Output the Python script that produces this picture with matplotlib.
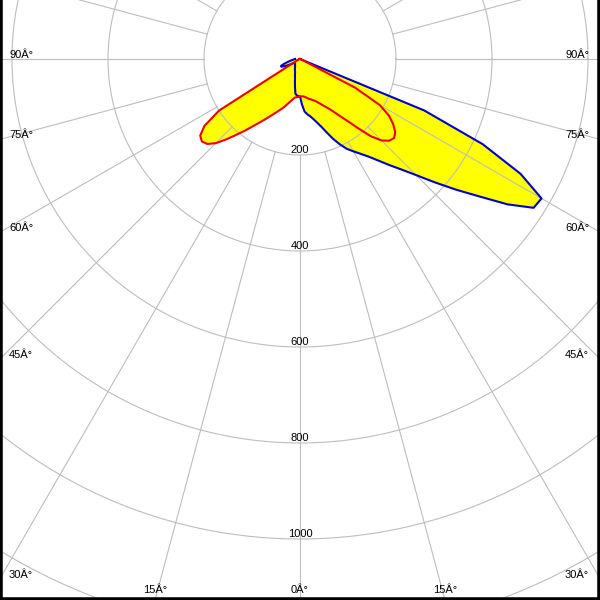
import numpy as np
import matplotlib
matplotlib.use("Agg")
import matplotlib.pyplot as plt

# luminous intensity (cd) every 2.5 deg from nadir, four half planes
angles = np.arange(0, 92.5, 2.5)

red_right = [78, 78, 78, 80, 82, 85, 87, 90, 93, 98, 104, 111, 119, 130, 145, 163,
             188, 218, 240, 252, 256, 250, 237, 220, 192, 130, 8, 5, 4, 3, 3, 2, 2, 2, 1, 1, 1]
red_left = [78, 79, 80, 81, 85, 90, 96, 103, 110, 117, 125, 134, 145, 157, 171, 188,
            206, 227, 248, 262, 267, 262, 243, 200, 15, 8, 5, 4, 3, 3, 2, 2, 2, 1, 1, 1, 1]
blue_right = [78, 95, 110, 116, 121, 128, 137, 148, 163, 180, 196, 211, 222, 234, 248, 266,
              288, 312, 342, 380, 423, 470, 528, 577, 581, 518, 420, 280, 0, 0, 0, 0, 0, 0, 0, 0, 0]
blue_left = [78, 77, 76, 73, 60, 49, 40, 35, 30, 27, 25, 23, 21, 19, 18, 17,
             16, 15, 15, 14, 14, 14, 14, 16, 20, 28, 36, 42, 42, 36, 30, 24, 20, 16, 14, 12, 10]

rings = [200, 400, 600, 800, 1000, 1200]
ring_labels = ["200", "400", "600", "800", "1000"]
angle_ticks = [0, 15, 30, 45, 60, 75, 90]

scale = 0.48          # pixels per cd
px = 1 / scale        # one pixel in data units
xmax = 300 * px
ymin, ymax = -541 * px, 59 * px

grid_col = "#bdbdbd"


def outline(left, right):
    a = np.radians(angles)
    l = np.array(left, dtype=float)
    r = np.array(right, dtype=float)
    x = np.concatenate([-(l * np.sin(a))[::-1], r * np.sin(a)])
    y = np.concatenate([-(l * np.cos(a))[::-1], -(r * np.cos(a))])
    return x, y


fig = plt.figure(figsize=(6, 6), dpi=100)
ax = fig.add_axes([0, 0, 1, 1])
ax.set_xlim(-xmax, xmax)
ax.set_ylim(ymin, ymax)
ax.set_xticks([])
ax.set_yticks([])
for side in ["left", "right", "bottom"]:
    ax.spines[side].set_linewidth(4)
    ax.spines[side].set_color("black")
ax.spines["top"].set_visible(False)

# curves filled first, grid goes over the fill
bx, by = outline(blue_left, blue_right)
rx, ry = outline(red_left, red_right)
ax.fill(bx, by, color="#ffff00", lw=0, zorder=1)
ax.fill(rx, ry, color="#ffff00", lw=0, zorder=1)

t = np.linspace(0, 2 * np.pi, 720)
for r in rings:
    ax.plot(r * np.cos(t), r * np.sin(t), color=grid_col, lw=0.8, zorder=2)
for k in range(24):
    th = np.radians(15 * k)
    ax.plot([200 * np.sin(th), 2000 * np.sin(th)], [-200 * np.cos(th), -2000 * np.cos(th)],
            color=grid_col, lw=0.8, zorder=2)

ax.plot(bx, by, color="#0000cc", lw=1.5, zorder=3)
ax.plot(rx, ry, color="#ee0000", lw=1.5, zorder=4)

font = dict(family="Liberation Sans", fontsize=8, color="black", zorder=5)

for r, lab in zip(rings, ring_labels):
    ax.text(0, -r + 2 * px, lab, ha="center", va="baseline", **font)

for a in angle_ticks:
    th = np.radians(a)
    for side in (-1, 1):
        if a == 0 and side == 1:
            continue
        s, c = np.sin(th), np.cos(th)
        t_side = xmax / s if s > 1e-9 else np.inf
        t_bot = -ymin / c if c > 1e-9 else np.inf
        lab = f"{a}Â°"
        if t_side < t_bot:
            y = -t_side * c + 1 * px
            if side < 0:
                ax.text(-xmax + 9 * px, y, lab, ha="left", va="baseline", **font)
            else:
                ax.text(xmax - 11 * px, y, lab, ha="right", va="baseline", **font)
        else:
            x = side * t_bot * s
            ax.text(x, ymin + 7 * px, lab, ha="center", va="baseline", **font)

fig.savefig("out.png", dpi=100)
